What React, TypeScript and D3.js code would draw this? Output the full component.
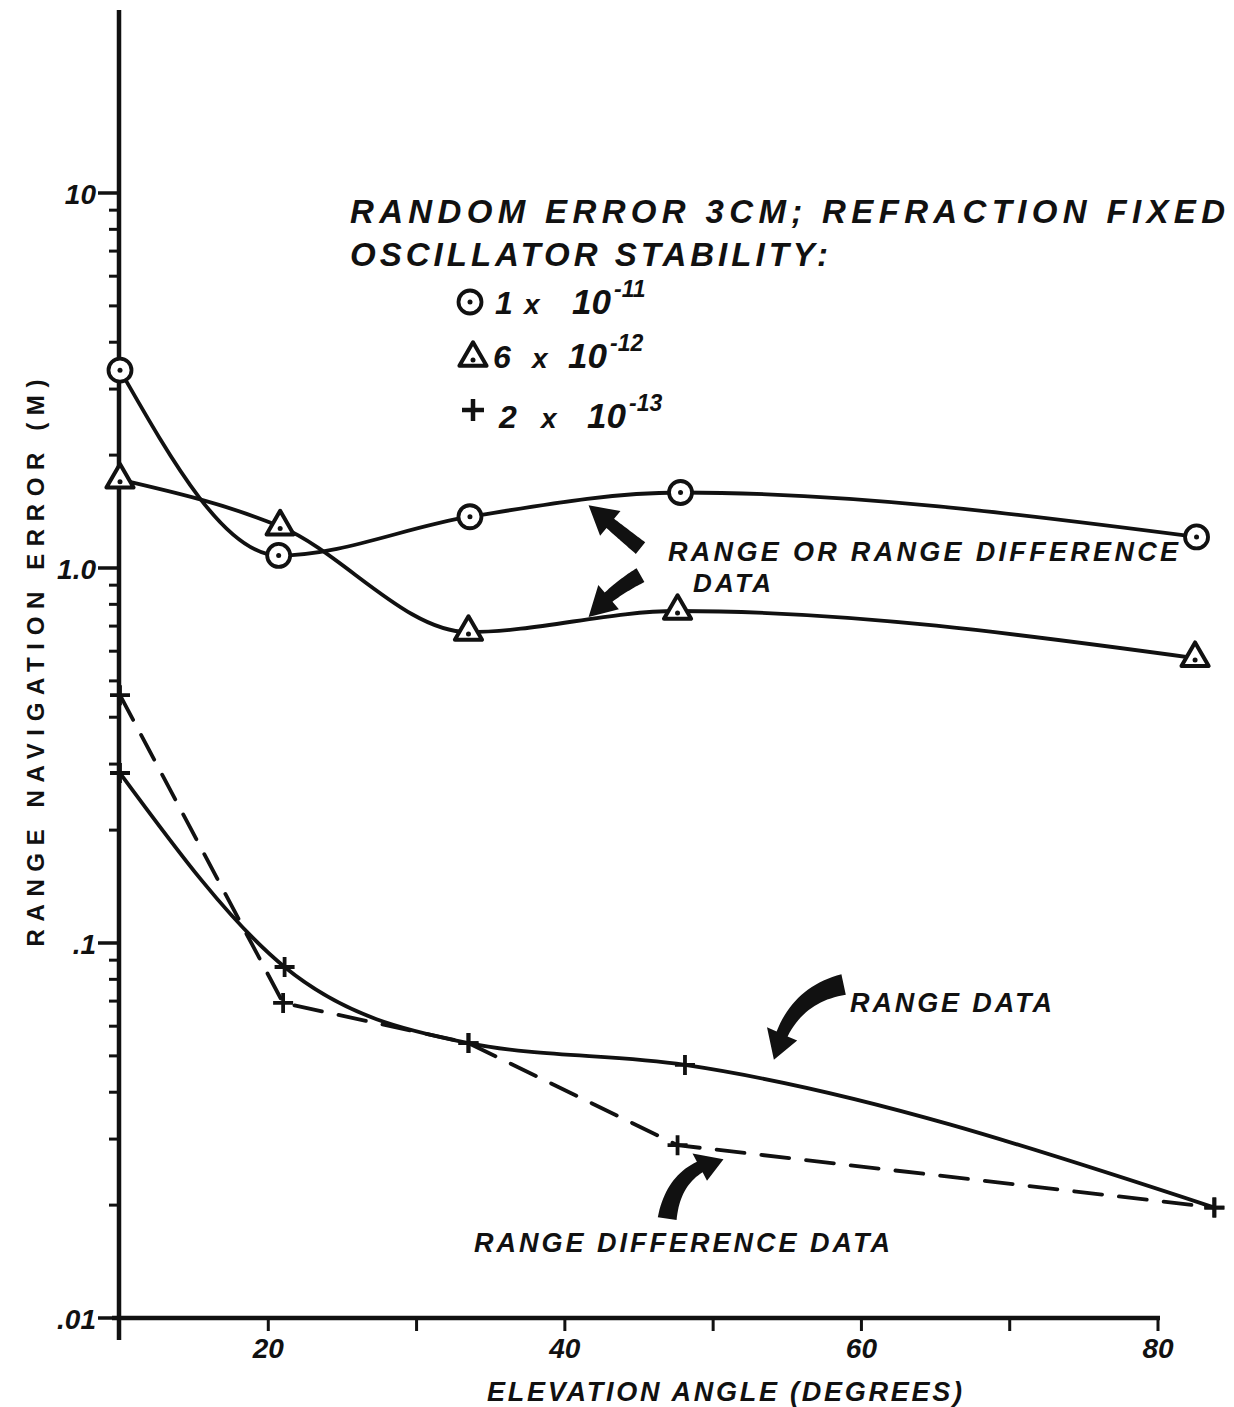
import React, { useEffect, useRef } from "react";
import * as d3 from "d3";

// elevation angle (deg) and range navigation error (m)
const stab11Angle = [10, 20.7, 33.6, 47.8, 82.6];
const stab11Error = [3.37, 1.08, 1.37, 1.59, 1.21];
const stab12Angle = [10, 20.8, 33.5, 47.6, 82.5];
const stab12Error = [1.72, 1.29, 0.675, 0.768, 0.575];
const rangeAngle = [10, 21.1, 33.5, 48.1, 83.8];
const rangeError = [0.284, 0.0863, 0.0541, 0.0473, 0.0197];
const rangeDiffAngle = [10, 21.0, 33.5, 47.6, 83.8];
const rangeDiffError = [0.458, 0.0692, 0.0541, 0.0289, 0.0197];

const xTickValues = [20, 30, 40, 50, 60, 70, 80];
const xTickLabels = [20, 40, 60, 80];
const yMajorValues = [10, 1, 0.1, 0.01];
const yMajorLabels = ["10", "1.0", ".1", ".01"];

const legendCoef = ["1", "6", "2"];
const legendExp = ["-11", "-12", "-13"];

// arrows: [tail, control, tip] in [angle, error]
const arrows = [
  { pts: [[45.1, 1.13], [43.3, 1.29], [41.6, 1.47]], w0: 15, w1: 12, head: 28, headW: 32 },
  { pts: [[45.1, 0.957], [43.0, 0.86], [41.6, 0.74]], w0: 16, w1: 12, head: 28, headW: 32 },
  { pts: [[58.8, 0.0775], [55.0, 0.072], [54.1, 0.0488]], w0: 21, w1: 12, head: 27, headW: 33 },
  { pts: [[46.9, 0.0184], [47.4, 0.0252], [50.7, 0.0265]], w0: 19, w1: 12, head: 25, headW: 31 },
];

const FONT = "'Liberation Sans', Arial, sans-serif";

function arrowPath(p0: number[], c: number[], p1: number[], w0: number, w1: number, headLen: number, headW: number) {
  const q = (t: number) => [
    (1 - t) * (1 - t) * p0[0] + 2 * (1 - t) * t * c[0] + t * t * p1[0],
    (1 - t) * (1 - t) * p0[1] + 2 * (1 - t) * t * c[1] + t * t * p1[1],
  ];
  const dq = (t: number) => [
    2 * (1 - t) * (c[0] - p0[0]) + 2 * t * (p1[0] - c[0]),
    2 * (1 - t) * (c[1] - p0[1]) + 2 * t * (p1[1] - c[1]),
  ];
  let th = 1;
  while (th > 0) {
    const p = q(th);
    if (Math.hypot(p[0] - p1[0], p[1] - p1[1]) >= headLen) break;
    th -= 0.005;
  }
  const left: number[][] = [];
  const right: number[][] = [];
  const N = 20;
  for (let i = 0; i <= N; i++) {
    const t = (th * i) / N;
    const p = q(t);
    const d = dq(t);
    const len = Math.hypot(d[0], d[1]);
    const n = [-d[1] / len, d[0] / len];
    const w = (w0 + ((w1 - w0) * i) / N) / 2;
    left.push([p[0] + n[0] * w, p[1] + n[1] * w]);
    right.push([p[0] - n[0] * w, p[1] - n[1] * w]);
  }
  const b = q(th);
  const d = dq(th);
  const len = Math.hypot(d[0], d[1]);
  const n = [-d[1] / len, d[0] / len];
  const hl = [b[0] + (n[0] * headW) / 2, b[1] + (n[1] * headW) / 2];
  const hr = [b[0] - (n[0] * headW) / 2, b[1] - (n[1] * headW) / 2];
  const pts = [...left, hl, p1, hr, ...right.reverse()];
  return "M" + pts.map((p) => p[0].toFixed(1) + "," + p[1].toFixed(1)).join("L") + "Z";
}

export default function App() {
  const ref = useRef<SVGSVGElement>(null);

  useEffect(() => {
    const svg = d3.select(ref.current);
    svg.selectAll("*").remove();

    const x = d3.scaleLinear().domain([10, 80]).range([120, 1158]);
    const y = d3.scaleLog().domain([0.01, 10]).range([1318, 193]);
    const ink = "#111";

    const g = svg.append("g");

    // axes
    g.append("line")
      .attr("x1", x(10) - 1).attr("x2", x(10) - 1)
      .attr("y1", 10).attr("y2", 1340)
      .attr("stroke", ink).attr("stroke-width", 4.5);
    g.append("line")
      .attr("x1", x(10) - 8).attr("x2", x(80) + 2)
      .attr("y1", y(0.01)).attr("y2", y(0.01))
      .attr("stroke", ink).attr("stroke-width", 4.5);

    g.selectAll(".xtick")
      .data(xTickValues)
      .enter()
      .append("line")
      .attr("x1", (d) => x(d)).attr("x2", (d) => x(d))
      .attr("y1", y(0.01)).attr("y2", y(0.01) + 13)
      .attr("stroke", ink).attr("stroke-width", 3);

    g.selectAll(".xlabel")
      .data(xTickLabels)
      .enter()
      .append("text")
      .attr("x", (d) => x(d))
      .attr("y", 1358)
      .attr("text-anchor", "middle")
      .attr("font-family", FONT)
      .attr("font-weight", "bold")
      .attr("font-style", "italic")
      .attr("font-size", 28)
      .attr("fill", ink)
      .text((d) => d);

    // y ticks (log minor ticks 2..9 in each decade)
    const minor: number[] = [];
    [0.01, 0.1, 1].forEach((dec) => {
      for (let k = 2; k <= 9; k++) minor.push(dec * k);
    });
    g.selectAll(".yminor")
      .data(minor)
      .enter()
      .append("line")
      .attr("x1", x(10) - 11).attr("x2", x(10))
      .attr("y1", (d) => y(d)).attr("y2", (d) => y(d))
      .attr("stroke", ink).attr("stroke-width", 3);
    g.selectAll(".ymajor")
      .data(yMajorValues)
      .enter()
      .append("line")
      .attr("x1", x(10) - 22).attr("x2", x(10))
      .attr("y1", (d) => y(d)).attr("y2", (d) => y(d))
      .attr("stroke", ink).attr("stroke-width", 3.5);
    g.selectAll(".ylabel")
      .data(yMajorValues)
      .enter()
      .append("text")
      .attr("x", x(10) - 24)
      .attr("y", (d) => y(d) + 11)
      .attr("text-anchor", "end")
      .attr("font-family", FONT)
      .attr("font-weight", "bold")
      .attr("font-style", "italic")
      .attr("font-size", 28)
      .attr("fill", ink)
      .text((d, i) => yMajorLabels[i]);

    // axis titles
    g.append("text")
      .attr("transform", "translate(44,663) rotate(-90)")
      .attr("text-anchor", "middle")
      .attr("font-family", FONT)
      .attr("font-weight", "bold")
      .attr("font-size", 24)
      .attr("textLength", 567)
      .attr("lengthAdjust", "spacing")
      .attr("fill", ink)
      .text("RANGE  NAVIGATION  ERROR   (M)");
    g.append("text")
      .attr("x", 487)
      .attr("y", 1401)
      .attr("font-family", FONT)
      .attr("font-weight", "bold")
      .attr("font-style", "italic")
      .attr("font-size", 27)
      .attr("textLength", 475)
      .attr("lengthAdjust", "spacing")
      .attr("fill", ink)
      .text("ELEVATION ANGLE (DEGREES)");

    // curves
    const series = [
      { a: stab11Angle, e: stab11Error, curve: d3.curveMonotoneX, dash: null },
      { a: stab12Angle, e: stab12Error, curve: d3.curveMonotoneX, dash: null },
      { a: rangeAngle, e: rangeError, curve: d3.curveMonotoneX, dash: null },
      { a: rangeDiffAngle, e: rangeDiffError, curve: d3.curveLinear, dash: "28,17" },
    ];
    series.forEach((s) => {
      const line = d3.line<number>()
        .x((d, i) => x(s.a[i]))
        .y((d) => y(d))
        .curve(s.curve);
      g.append("path")
        .attr("d", line(s.e))
        .attr("fill", "none")
        .attr("stroke", ink)
        .attr("stroke-width", 3.8)
        .attr("stroke-linecap", "round")
        .attr("stroke-dasharray", s.dash);
    });

    // markers
    const drawCircle = (cx: number, cy: number) => {
      g.append("circle").attr("cx", cx).attr("cy", cy).attr("r", 11.5)
        .attr("fill", "white").attr("stroke", ink).attr("stroke-width", 3.8);
      g.append("circle").attr("cx", cx).attr("cy", cy).attr("r", 2.5).attr("fill", ink);
    };
    const tri = d3.symbol().type(d3.symbolTriangle).size(320);
    const drawTriangle = (cx: number, cy: number) => {
      g.append("path").attr("d", tri()).attr("transform", `translate(${cx},${cy})`)
        .attr("fill", "white").attr("stroke", ink).attr("stroke-width", 4)
        .attr("stroke-linejoin", "round");
      g.append("circle").attr("cx", cx).attr("cy", cy + 2).attr("r", 2.5).attr("fill", ink);
    };
    const drawPlus = (cx: number, cy: number, s = 10, w = 3.8) => {
      g.append("path")
        .attr("d", `M${cx - s},${cy}H${cx + s}M${cx},${cy - s}V${cy + s}`)
        .attr("stroke", ink).attr("stroke-width", w).attr("fill", "none");
    };

    stab11Angle.forEach((a, i) => drawCircle(x(a), y(stab11Error[i])));
    stab12Angle.forEach((a, i) => drawTriangle(x(a), y(stab12Error[i])));
    rangeAngle.forEach((a, i) => drawPlus(x(a), y(rangeError[i])));
    rangeDiffAngle.forEach((a, i) => drawPlus(x(a), y(rangeDiffError[i])));

    // arrows
    arrows.forEach((ar) => {
      const p = ar.pts.map((d) => [x(d[0]), y(d[1])]);
      g.append("path")
        .attr("d", arrowPath(p[0], p[1], p[2], ar.w0, ar.w1, ar.head, ar.headW))
        .attr("fill", ink);
    });

    // text block
    const txt = (tx: number, ty: number, s: string, size: number, len?: number) => {
      const t = g.append("text")
        .attr("x", tx).attr("y", ty)
        .attr("font-family", FONT)
        .attr("font-weight", "bold")
        .attr("font-style", "italic")
        .attr("font-size", size)
        .attr("fill", ink)
        .text(s);
      if (len) t.attr("textLength", len).attr("lengthAdjust", "spacing");
      return t;
    };
    txt(350, 223, "RANDOM ERROR  3CM;  REFRACTION FIXED", 33, 875);
    txt(350, 266, "OSCILLATOR STABILITY:", 33, 478);

    // legend rows: symbol, coefficient, "x", "10", exponent
    const rows = [
      { sy: 302, base: 314, cx: 495, xx: 524, tx: 572 },
      { sy: 358, base: 368, cx: 493, xx: 532, tx: 568 },
      { sy: 410, base: 428, cx: 499, xx: 541, tx: 587 },
    ];
    drawCircle(470, rows[0].sy);
    drawTriangle(473, rows[1].sy);
    drawPlus(473, rows[2].sy, 11, 4.5);
    rows.forEach((r, i) => {
      txt(r.cx, r.base, legendCoef[i], 32);
      txt(r.xx, r.base, "x", 28);
      txt(r.tx, r.base, "10", 35);
      txt(r.tx + 42, r.base - 17, legendExp[i], 23);
    });

    txt(668, 561, "RANGE OR RANGE DIFFERENCE", 27, 510);
    txt(693, 592, "DATA", 26, 78);
    txt(850, 1012, "RANGE DATA", 27, 202);
    txt(474, 1252, "RANGE DIFFERENCE DATA", 27, 416);
  }, []);

  return (
    <div style={{ position: "absolute", left: 0, top: 0 }}>
      <svg ref={ref} width={1234} height={1407} style={{ display: "block", background: "white" }} />
    </div>
  );
}
